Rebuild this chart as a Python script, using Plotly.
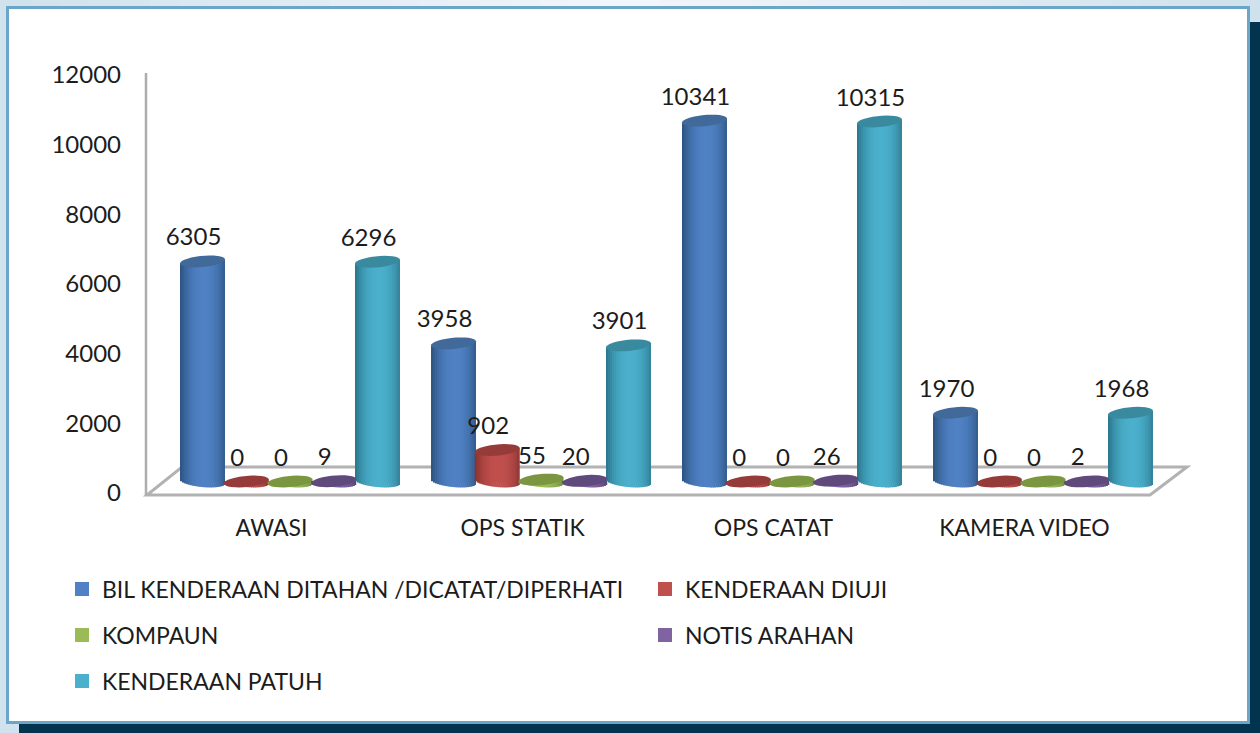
import math
import plotly.graph_objects as go

categories = ["AWASI", "OPS STATIK", "OPS CATAT", "KAMERA VIDEO"]
series_names = ["BIL KENDERAAN DITAHAN /DICATAT/DIPERHATI", "KENDERAAN DIUJI", "KOMPAUN", "NOTIS ARAHAN", "KENDERAAN PATUH"]
bil_kenderaan = [6305, 3958, 10341, 1970]
kenderaan_diuji = [0, 902, 0, 0]
kompaun = [0, 55, 0, 0]
notis_arahan = [9, 20, 26, 2]
kenderaan_patuh = [6296, 3901, 10315, 1968]
y_ticks = [0, 2000, 4000, 6000, 8000, 10000, 12000]

series_values = [bil_kenderaan, kenderaan_diuji, kompaun, notis_arahan, kenderaan_patuh]
colors = ["#4f81c4", "#c0504d", "#9bbb59", "#8064a2", "#4bb0cc"]
edge_colors = ["#2f5685", "#8c3432", "#6f8a3a", "#56406f", "#2d7a90"]
cap_colors = ["#41699a", "#953b39", "#7b9640", "#5f4a7b", "#3a8a9f"]
# legend anchor points in page pixels (text start, row centre)
legend_pos = [(102, 589), (685, 589), (102, 635), (685, 635), (102, 681)]

W, H = 1260, 733
FONT = "Lato"
TEXT = "#1c1c1c"
GROUP_PX = 251.0
Y_PX = 0.0349      # px per unit on the bar plane
X0_PX = 290.0      # pixel of group 0 centre on bar plane
Y0_PX = 481.5      # pixel of value 0 on bar plane
STEP_PX = 43.75
BAR_PX = 45.0
CAP_B = 5.6
TILT = 2.0
N = 23


def hexmix(a, b, t):
    ca = [int(a[i:i + 2], 16) for i in (1, 3, 5)]
    cb = [int(b[i:i + 2], 16) for i in (1, 3, 5)]
    return "rgb(%d,%d,%d)" % tuple(round(x + (y - x) * t) for x, y in zip(ca, cb))


def px(x):
    return x / W


def py(y):
    return 1 - y / H


fig = go.Figure()

# front plane: axis labels
fig.add_trace(go.Scatter(x=[0], y=[0], mode="markers", marker=dict(opacity=0), showlegend=False,
                         hoverinfo="skip", xaxis="x", yaxis="y"))

centers = [(s - 2) * STEP_PX / GROUP_PX for s in range(5)]
xs = list(range(len(categories)))

for s, vals in enumerate(series_values):
    lname = "legend" if s == 0 else f"legend{s + 1}"
    fig.add_trace(go.Bar(x=xs, y=vals, name=series_names[s], width=0.8 * BAR_PX / GROUP_PX,
                         offset=centers[s] - 0.4 * BAR_PX / GROUP_PX,
                         marker=dict(color=colors[s], line=dict(width=2, color=colors[s])),
                         xaxis="x2", yaxis="y2", legend=lname, hoverinfo="skip"))
    for k in range(N):
        t0 = -1 + 2 * k / N
        t1 = -1 + 2 * (k + 1) / N
        t = (t0 + t1) / 2
        down = (CAP_B * math.sqrt(max(0, 1 - t * t)) + TILT * t) / Y_PX
        up = TILT * t / Y_PX
        shade = abs(t - 0.05) ** 2.2
        fig.add_trace(go.Bar(x=xs, y=[v + down + up for v in vals], base=[-down] * len(vals),
                             width=(t1 - t0) * BAR_PX / 2 / GROUP_PX + (0.6 / GROUP_PX if k < N - 1 else 0),
                             offset=centers[s] + t0 * BAR_PX / 2 / GROUP_PX,
                             marker=dict(color=hexmix(colors[s], edge_colors[s], min(1, shade)), line=dict(width=0)),
                             xaxis="x2", yaxis="y2", showlegend=False, hoverinfo="skip"))

# data labels
for s, vals in enumerate(series_values):
    fig.add_trace(go.Scatter(x=[i + centers[s] - 9 / GROUP_PX for i in xs],
                             y=[v + 22 / Y_PX for v in vals],
                             text=[str(v) for v in vals], mode="text", textposition="middle center",
                             textfont=dict(family=FONT, size=24, color=TEXT), cliponaxis=False,
                             showlegend=False, hoverinfo="skip", xaxis="x2", yaxis="y2"))

shapes = []
# page furniture
LIGHT_L, LIGHT_M, LIGHT_R = "#cfe2ed", "#f2f6fa", "#cfe1ec"
steps = 42
for i in range(steps):
    f = (i + 0.5) / steps
    col = hexmix(LIGHT_L, LIGHT_M, f * 2) if f < 0.5 else hexmix(LIGHT_M, LIGHT_R, (f - 0.5) * 2)
    shapes.append(dict(type="rect", xref="paper", yref="paper", x0=i / steps, x1=(i + 1.02) / steps,
                       y0=py(6), y1=1, fillcolor=col, line=dict(width=0), layer="below"))
shapes += [
    dict(type="rect", xref="paper", yref="paper", x0=0, x1=px(6), y0=0, y1=1, fillcolor=LIGHT_L, line=dict(width=0), layer="below"),
    dict(type="rect", xref="paper", yref="paper", x0=0, x1=px(19), y0=0, y1=py(723), fillcolor=LIGHT_L, line=dict(width=0), layer="below"),
    dict(type="rect", xref="paper", yref="paper", x0=px(1250), x1=1, y0=py(22), y1=1, fillcolor=LIGHT_R, line=dict(width=0), layer="below"),
    dict(type="rect", xref="paper", yref="paper", x0=px(1250), x1=1, y0=0, y1=py(22), fillcolor="#02334f", line=dict(width=0), layer="below"),
    dict(type="rect", xref="paper", yref="paper", x0=px(19), x1=1, y0=0, y1=py(723), fillcolor="#02334f", line=dict(width=0), layer="below"),
    dict(type="rect", xref="paper", yref="paper", x0=px(7.5), x1=px(1248.5), y0=py(722.5), y1=py(7.5), fillcolor="white",
         line=dict(width=3, color="#6ba5c7"), layer="below"),
    # floor and wall
    dict(type="path", xref="paper", yref="paper",
         path=f"M{px(147)},{py(495)} L{px(1150)},{py(495)} L{px(1187)},{py(467)} L{px(182)},{py(467)} Z",
         line=dict(width=3, color="#b2b2b2"), fillcolor="white", layer="below"),
    dict(type="line", xref="paper", yref="paper", x0=px(146), x1=px(146), y0=py(495), y1=py(73),
         line=dict(width=2.5, color="#adadad"), layer="below"),
]

# cylinder caps, placed from the values
for s, vals in enumerate(series_values):
    for i, v in enumerate(vals):
        pts = []
        for a in range(0, 360, 12):
            th = math.radians(a)
            ddx = BAR_PX / 2 * math.cos(th)
            ddy = TILT * math.cos(th) + CAP_B * math.sin(th)
            pts.append((i + centers[s] + ddx / GROUP_PX, v + ddy / Y_PX))
        path = "M" + " L".join(f"{a:.5f},{b:.2f}" for a, b in pts) + " Z"
        shapes.append(dict(type="path", xref="x2", yref="y2", path=path, fillcolor=cap_colors[s],
                           line=dict(width=0), layer="above"))

layout = dict(
    width=W, height=H, margin=dict(l=0, r=0, t=0, b=0, autoexpand=False), autosize=False,
    paper_bgcolor="white", plot_bgcolor="rgba(0,0,0,0)",
    barmode="overlay", shapes=shapes, hovermode=False,
    font=dict(family=FONT, color=TEXT),
    xaxis=dict(domain=[px(146), px(1150)], range=[-0.5, 3.5], tickmode="array", tickvals=xs, ticktext=categories,
               showgrid=False, zeroline=False, showline=False, ticks="", anchor="y",
               tickfont=dict(family=FONT, size=23, color=TEXT), ticklabelstandoff=19),
    yaxis=dict(domain=[py(493), py(75)], range=[0, 12000], tickmode="array", tickvals=y_ticks,
               ticktext=[str(t) for t in y_ticks],
               showgrid=False, zeroline=False, showline=False, ticks="", anchor="x",
               tickfont=dict(family=FONT, size=24, color=TEXT), ticklabelstandoff=24),
    xaxis2=dict(domain=[px(146), px(1200)], range=[(146 - X0_PX) / GROUP_PX, (1200 - X0_PX) / GROUP_PX],
                visible=False, anchor="y2"),
    yaxis2=dict(domain=[py(505), py(50)], range=[(Y0_PX - 505) / Y_PX, (Y0_PX - 50) / Y_PX],
                visible=False, anchor="x2"),
)
for s, (lx, ly) in enumerate(legend_pos):
    key = "legend" if s == 0 else f"legend{s + 1}"
    layout[key] = dict(x=px(lx - 40), y=py(ly), xanchor="left", yanchor="middle", bgcolor="rgba(0,0,0,0)",
                       font=dict(family=FONT, size=23, color=TEXT), itemclick=False, itemdoubleclick=False)
fig.update_layout(**layout)

fig.write_html("out.html", config=dict(displayModeBar=False),
               post_script="document.body.style.margin='0';document.body.style.overflow='hidden';")
